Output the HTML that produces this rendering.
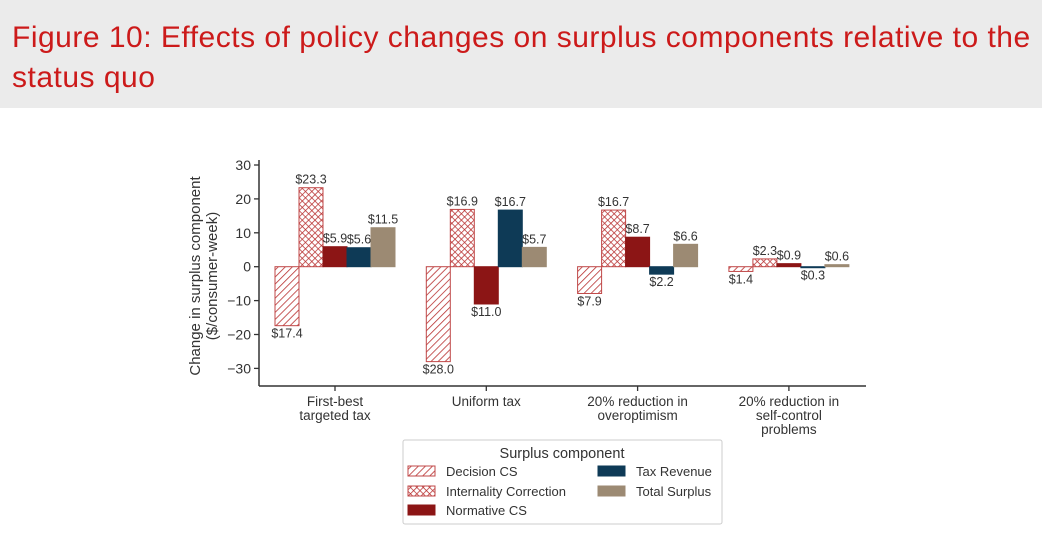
<!DOCTYPE html>
<html><head><meta charset="utf-8"><style>
body{margin:0;width:1042px;height:548px;background:#fff;overflow:hidden;font-family:"Liberation Sans",Arial,sans-serif}
#hdr{position:absolute;left:0;top:0;width:1042px;height:108px;background:#ebebeb}
#ttl{position:absolute;left:12px;top:18px;color:#cc1a1a;font-size:30px;line-height:40px;letter-spacing:0.5px;white-space:nowrap}
svg{position:absolute;left:0;top:0}
</style></head><body>
<div id="hdr"></div>
<div id="ttl">Figure 10: Effects of policy changes on surplus components relative to the<br>status quo</div>
<svg id="c" width="1042" height="548">
<defs>
<pattern id="diag" patternUnits="userSpaceOnUse" width="5" height="5" patternTransform="rotate(45)">
<rect width="5" height="5" fill="#fff"/><line x1="0" y1="0" x2="0" y2="5" stroke="#b83030" stroke-width="1.6"/></pattern>
<pattern id="cross" patternUnits="userSpaceOnUse" width="4.5" height="4.5" patternTransform="rotate(45)">
<rect width="4.5" height="4.5" fill="#fff"/><line x1="0" y1="0" x2="0" y2="4.5" stroke="#b83030" stroke-width="1.5"/><line x1="0" y1="0" x2="4.5" y2="0" stroke="#b83030" stroke-width="1.5"/></pattern>
</defs>
</svg>
<script>
const categories=[["First-best","targeted tax"],["Uniform tax"],["20% reduction in","overoptimism"],["20% reduction in","self-control","problems"]];
const seriesNames=["Decision CS","Internality Correction","Normative CS","Tax Revenue","Total Surplus"];
const decisionCS=[-17.4,-28.0,-7.9,-1.4];
const internality=[23.3,16.9,16.7,2.3];
const normativeCS=[5.9,-11.0,8.7,0.9];
const taxRevenue=[5.6,16.7,-2.2,-0.3];
const totalSurplus=[11.5,5.7,6.6,0.6];
const yTicks=[30,20,10,0,-10,-20,-30];
const series=[decisionCS,internality,normativeCS,taxRevenue,totalSurplus];
const fills=["url(#diag)","url(#cross)","#8c1515","#0e3a56","#9c8a73"];
const strokes=["#c04848","#c04848","#8c1515","#0e3a56","#9c8a73"];
const svg=document.getElementById('c');const NS="http://www.w3.org/2000/svg";
function mk(t,a,p){const e=document.createElementNS(NS,t);for(const k in a)e.setAttribute(k,a[k]);(p||svg).appendChild(e);return e;}
const y=v=>266.7-v*3.39;
const cx=i=>335+i*151.3;
const bw=24;
const axX=259;const axBot=386;
let ax=mk('line',{x1:axX,y1:160,x2:axX,y2:axBot,stroke:'#333','stroke-width':1.5});

let bx=mk('line',{x1:axX,y1:axBot,x2:866,y2:axBot,stroke:'#333','stroke-width':1.5});

yTicks.forEach(v=>{
 mk('line',{x1:axX-5,y1:y(v),x2:axX,y2:y(v),stroke:'#333','stroke-width':1.3});
 const t=mk('text',{x:axX-8,y:y(v)+5,'text-anchor':'end','font-size':14,fill:'#333'});
 t.textContent=(v<0?'\u2212':'')+Math.abs(v);
 
});
const yt=mk('text',{transform:'translate(200,276) rotate(-90)','text-anchor':'middle','font-size':15,fill:'#333'});

mk('tspan',{x:0,dy:0},yt).textContent='Change in surplus component';
mk('tspan',{x:0,dy:17},yt).textContent='($/consumer-week)';
categories.forEach((c,i)=>{
 mk('line',{x1:cx(i),y1:axBot,x2:cx(i),y2:axBot+5,stroke:'#333','stroke-width':1.3});
 const t=mk('text',{x:cx(i),y:axBot+20,'text-anchor':'middle','font-size':13.5,fill:'#333'});
 
 c.forEach((l,k)=>{mk('tspan',{x:cx(i),dy:k?14:0},t).textContent=l;});
});
series.forEach((s,j)=>{
 s.forEach((v,i)=>{
  const x0=cx(i)-2.5*bw+j*bw;
  const r=mk('rect',{x:x0,y:Math.min(y(0),y(v)),width:bw,height:Math.max(Math.abs(y(v)-y(0)),1),fill:fills[j],stroke:strokes[j],'stroke-width':1});
  
  
  const t=mk('text',{x:x0+bw/2,y:v>=0?y(v)-4:y(v)+12,'text-anchor':'middle','font-size':12.5,fill:'#333'});
  t.textContent='$'+Math.abs(v).toFixed(1);
  
 });
});
const lg=mk('g',{});

mk('rect',{x:403,y:440,width:319,height:84,fill:'#fff',stroke:'#ccc',rx:2},lg);
const lt=mk('text',{x:562,y:458,'text-anchor':'middle','font-size':14.5,fill:'#333'},lg);lt.textContent='Surplus component';
const pos=[[408,472],[408,492],[408,511],[598,472],[598,492]];
seriesNames.forEach((n,j)=>{
 const e=mk('g',{},lg);
 
 mk('rect',{x:pos[j][0],y:pos[j][1]-6,width:27,height:10,fill:fills[j],stroke:strokes[j],'stroke-width':1},e);
 const t=mk('text',{x:pos[j][0]+38,y:pos[j][1]+4,'font-size':13,fill:'#333'},e);t.textContent=n;
});
</script>
</body></html>
